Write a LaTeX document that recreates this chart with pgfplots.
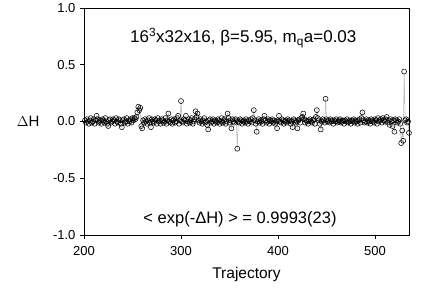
\documentclass[border=0pt]{standalone}
\usepackage{pgfplots}
\usepackage{pgfplotstable}
\pgfplotsset{compat=1.18}
\usepackage{fontspec}
\setmainfont{Liberation Sans}
\pgfplotstableread{
dh
0.01
-0.01
0.02
0.00
-0.02
0.01
0.03
-0.01
0.00
0.02
-0.02
0.01
0.05
0.02
-0.01
0.00
0.01
-0.02
0.02
0.01
-0.01
0.03
0.00
-0.02
-0.04
0.01
0.02
-0.01
0.00
0.02
0.01
-0.02
0.03
0.00
-0.01
0.02
0.01
-0.02
-0.05
0.01
0.02
-0.01
0.00
0.03
-0.02
0.01
0.00
0.02
-0.01
0.03
0.01
0.03
0.02
0.04
0.08
0.13
0.10
0.12
-0.04
-0.06
0.01
-0.01
0.02
0.00
-0.02
0.01
0.03
-0.01
-0.05
0.02
0.00
-0.01
0.02
0.01
-0.02
0.03
0.00
0.01
-0.02
0.02
0.01
-0.01
0.00
0.03
-0.02
0.01
0.07
0.00
-0.01
0.02
-0.02
0.01
0.02
-0.01
0.00
0.03
0.05
-0.02
0.01
0.18
0.00
-0.01
0.02
0.01
0.05
-0.02
0.00
0.02
-0.01
0.01
0.03
-0.02
0.00
0.02
0.09
0.04
0.07
0.01
-0.01
0.02
0.00
-0.02
0.01
0.03
-0.01
0.00
-0.03
-0.07
0.01
0.02
-0.01
0.00
0.02
-0.02
0.01
0.00
-0.01
0.02
0.01
-0.02
0.00
0.03
-0.01
0.01
0.02
-0.02
0.00
0.07
0.03
-0.01
0.01
-0.06
0.02
0.00
-0.01
0.02
0.01
-0.24
0.00
-0.01
0.02
0.01
-0.02
0.00
0.01
-0.01
0.02
0.00
-0.02
0.01
0.00
0.02
-0.01
0.03
0.10
0.01
-0.02
-0.09
0.00
0.02
-0.01
0.01
0.00
-0.02
0.02
0.05
0.01
-0.01
0.00
0.02
-0.02
0.01
0.00
0.02
-0.01
0.01
-0.02
0.00
-0.06
0.01
0.05
0.00
-0.01
0.02
0.01
-0.02
0.00
0.01
-0.01
0.02
0.00
0.01
-0.02
0.00
-0.05
0.02
0.01
-0.01
0.00
-0.06
0.01
0.02
-0.01
0.03
0.04
0.07
0.02
-0.01
0.01
0.00
-0.02
0.01
0.02
0.00
-0.01
0.01
0.02
-0.02
0.04
0.10
0.03
0.01
-0.02
-0.07
0.00
0.02
0.01
-0.01
0.20
0.02
0.00
0.01
-0.01
0.02
0.00
0.01
-0.02
0.01
0.00
0.02
-0.01
0.00
0.01
0.02
-0.01
0.00
0.01
-0.02
0.01
0.00
0.02
-0.01
0.00
0.01
-0.02
0.01
0.00
0.02
-0.01
0.01
0.00
-0.02
0.01
0.02
-0.01
0.03
0.08
0.01
-0.01
0.00
0.02
-0.01
0.01
0.00
-0.02
0.02
0.01
0.00
-0.01
0.02
0.01
-0.02
0.03
0.00
0.01
0.02
-0.01
0.03
0.01
0.00
0.02
0.04
-0.01
0.01
-0.03
0.02
0.00
-0.04
0.01
-0.09
0.02
0.01
-0.01
0.00
0.02
-0.02
-0.19
-0.08
-0.17
0.44
0.01
0.02
-0.01
0.00
-0.10
}\dhtable
\begin{document}
\begin{tikzpicture}
\useasboundingbox (-84pt,-61pt) rectangle (352pt,235pt);
\begin{axis}[
  at={(0pt,0pt)}, anchor=south west,
  scale only axis,
  width=325pt, height=227pt,
  xmin=200, xmax=535,
  ymin=-1, ymax=1,
  xtick={200,300,400,500},
  ytick={-1,-0.5,0,0.5,1},
  yticklabel style={/pgf/number format/fixed,/pgf/number format/fixed zerofill,/pgf/number format/precision=1, xshift=-1pt},
  xticklabel style={yshift=-4pt},
  /pgf/number format/assume math mode=true,
  tick label style={font=\fontsize{13}{15}\selectfont},
  tick align=outside,
  major tick length=4pt,
  xtick pos=bottom, ytick pos=left,
  axis line style={black, line width=0.6pt},
  tick style={black, line width=0.6pt},
  xlabel={Trajectory},
  xlabel style={font=\fontsize{15.5}{17}\selectfont, at={(axis description cs:0.5,-0.176)}, anchor=center},
  ylabel={$\Delta$H},
  ylabel style={font=\fontsize{15}{17}\selectfont, rotate=-90, at={(axis description cs:-0.172,0.5)}, anchor=center},
  clip=false,
]
\addplot[color=black!25, line width=0.6pt, mark=o, mark size=2.5pt,
  mark options={draw=black, line width=0.55pt, fill=none}]
  table[x expr=\coordindex+201, y=dh] {\dhtable};
\node[font=\fontsize{17}{19}\selectfont] at (axis description cs:0.49,0.868)
  {16\textsuperscript{3}x32x16, β=5.95, m\textsubscript{q}a=0.03};
\node[font=\fontsize{16.5}{18}\selectfont] at (axis description cs:0.48,0.07)
  {< exp(-ΔH) > = 0.9993(23)};
\end{axis}
\end{tikzpicture}
\end{document}
